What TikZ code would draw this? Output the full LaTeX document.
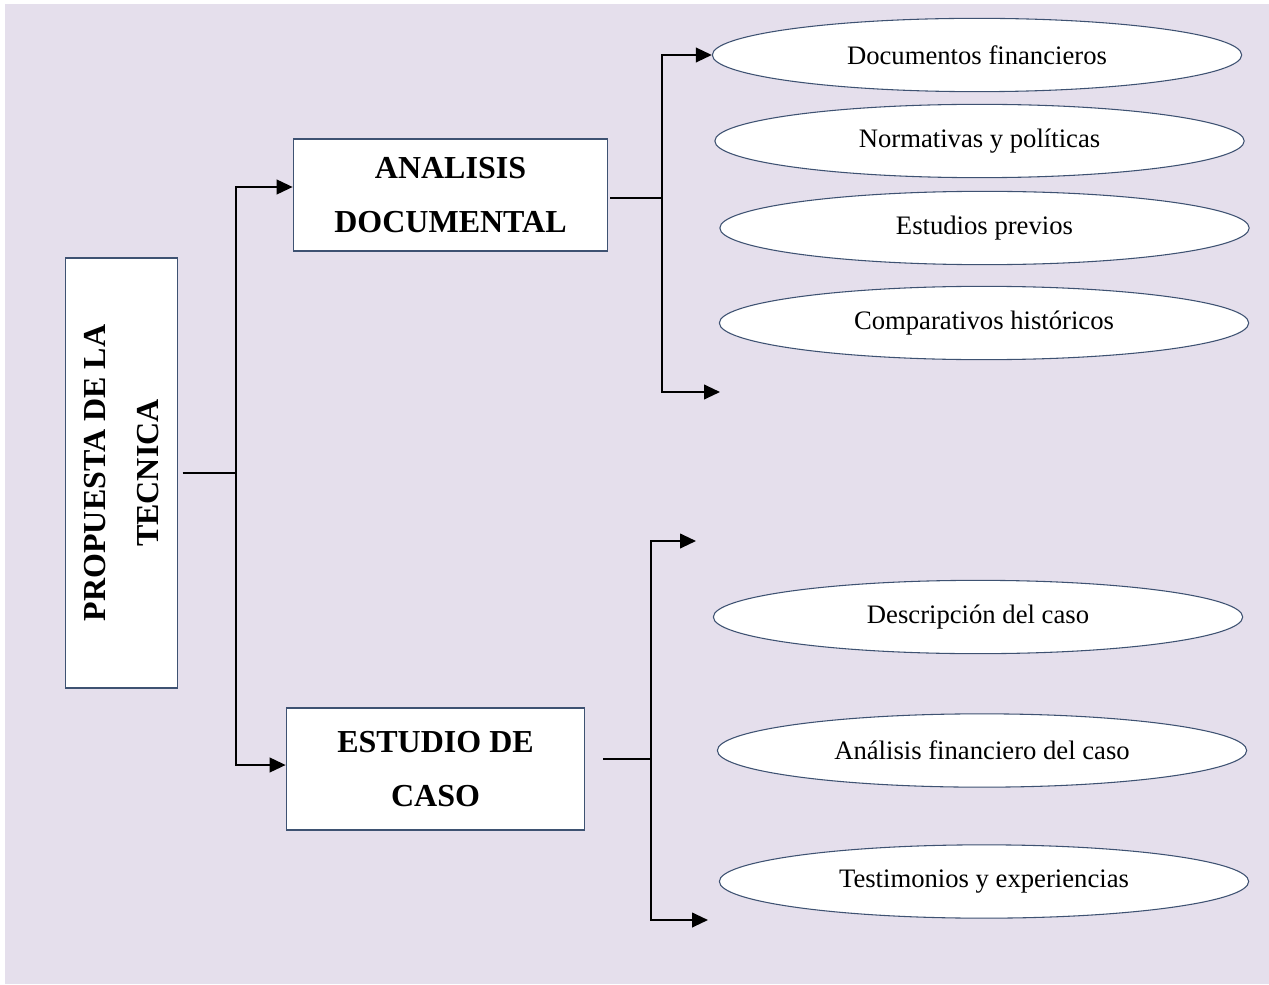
\documentclass[tikz,border=0pt]{standalone}
\usepackage{fontspec}
\setmainfont{Liberation Serif}
\usetikzlibrary{shapes.geometric,arrows.meta,calc}
\definecolor{bgcol}{HTML}{E5DFEC}
\definecolor{edgecol}{HTML}{3E5272}
\tikzset{
  px/.style={x=0.75pt,y=-0.75pt},
  boxnode/.style={draw=edgecol,line width=0.8pt,fill=white,inner sep=0pt,align=center,
     font=\fontsize{24}{40}\selectfont\bfseries},
  ellnode/.style={ellipse,draw=edgecol,line width=0.8pt,fill=white,inner sep=0pt,
     minimum width=397pt,minimum height=55pt,font=\fontsize{20}{24}\selectfont},
  conn/.style={line width=1.5pt,black},
  arr/.style={conn,-{Triangle[length=12pt,width=11pt]}},
}
\begin{document}
\begin{tikzpicture}[px]
\useasboundingbox (0,0) rectangle (1269,984);
\fill[bgcol] (5,4) rectangle (1269,984);

% main boxes
\node[boxnode,rotate=90,minimum width=322.5pt,minimum height=83.5pt] (left) at (121.5,473)
  {PROPUESTA DE LA\\TECNICA};
\node[boxnode,minimum width=236pt,minimum height=84pt] (ana) at (450.5,195)
  {ANALISIS\\DOCUMENTAL};
\node[boxnode,minimum width=224pt,minimum height=91.5pt] (est) at (435.5,769)
  {ESTUDIO DE\\CASO};

% ellipses
\node[ellnode] (e1) at (977,55) {Documentos financieros};
\node[ellnode] (e2) at (979.5,141) {Normativas y políticas};
\node[ellnode] (e3) at (984.5,228) {Estudios previos};
\node[ellnode] (e4) at (984,323) {Comparativos históricos};
\node[ellnode] (e5) at (978,617) {Descripción del caso};
\node[ellnode] (e6) at (982,750.5) {Análisis financiero del caso};
\node[ellnode] (e7) at (984,881.5) {Testimonios y experiencias};

% junction and free-end coordinates
\coordinate (j1) at (235.5,473);
\coordinate (t1) at (662,198);
\coordinate (t2) at (651,759);
\coordinate (f1) at (720,392);
\coordinate (f2) at (696,541);
\coordinate (f3) at (708,920);

% connectors
\draw[conn] ([xshift=3.75pt]left.south) -- (j1);
\draw[arr] (j1) |- ($(ana.west)+(0,-8)$);
\draw[arr] (j1) |- ($(est.west)+(0,-4)$);

\draw[conn] ([xshift=1.5pt,yshift=-2.25pt]ana.east) -- (t1);
\draw[arr] (t1) |- (e1.west);
\draw[arr] (t1) |- (f1);

\draw[conn] ([xshift=13.5pt,yshift=7.5pt]est.east) -- (t2);
\draw[arr] (t2) |- (f2);
\draw[arr] (t2) |- (f3);
\end{tikzpicture}
\end{document}
